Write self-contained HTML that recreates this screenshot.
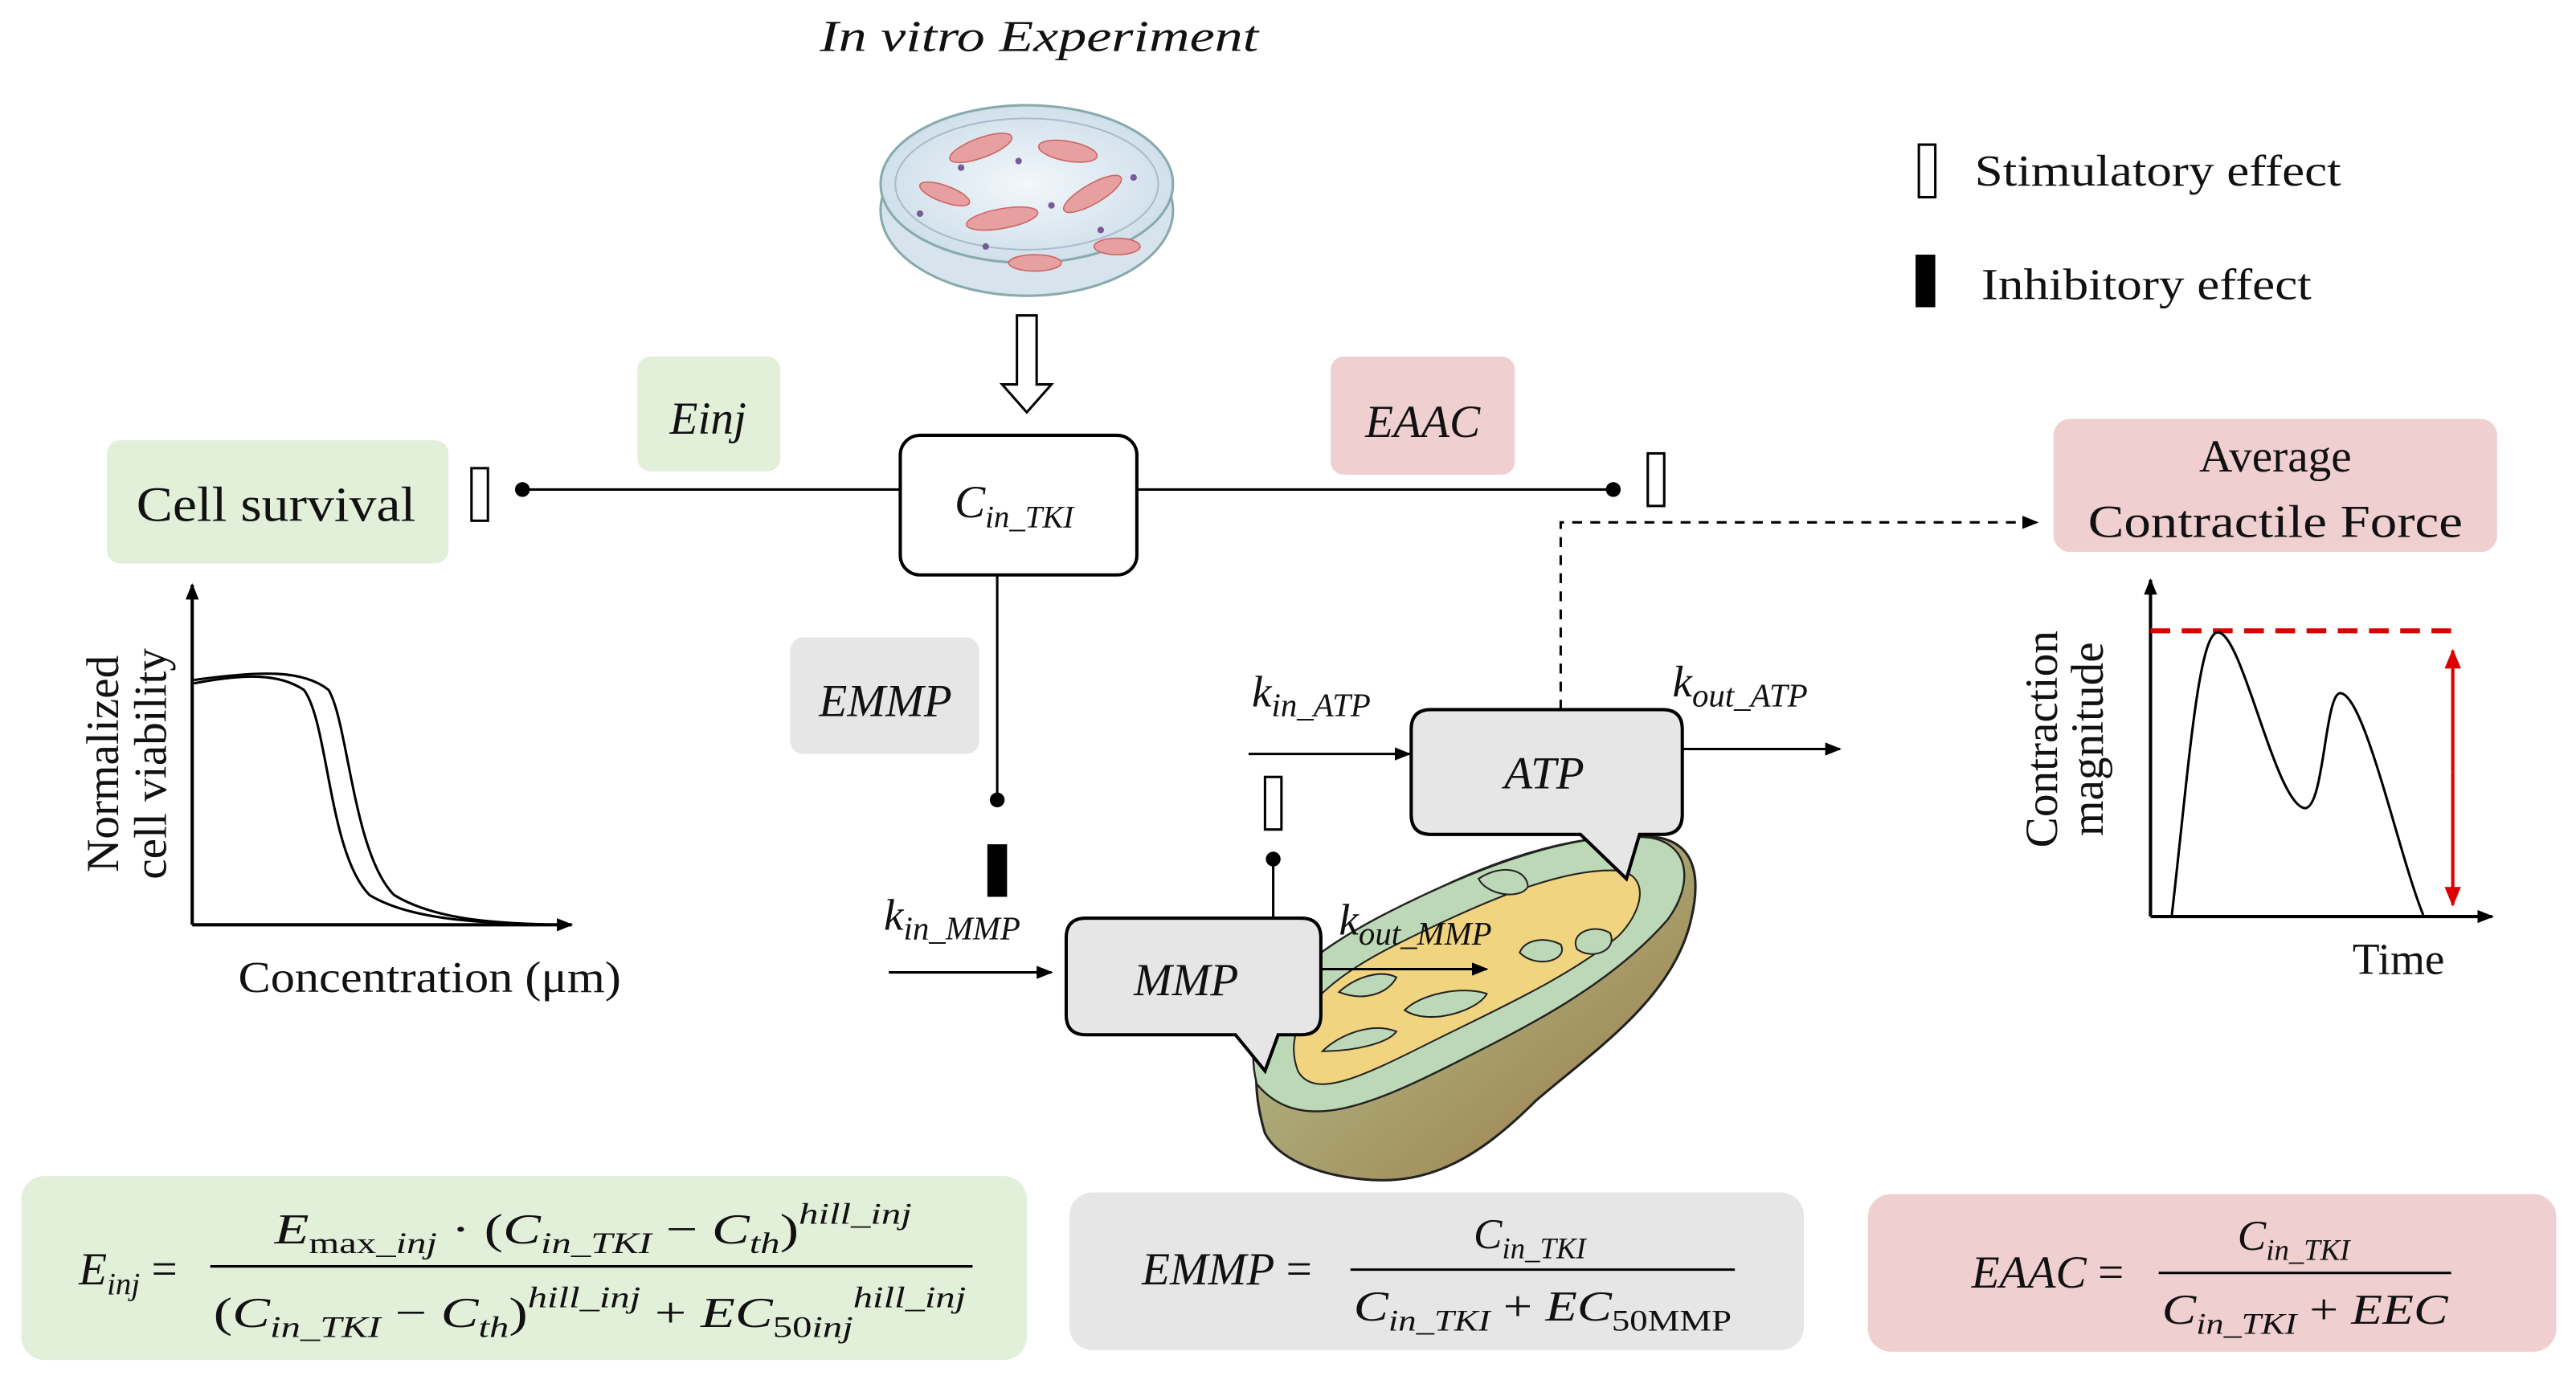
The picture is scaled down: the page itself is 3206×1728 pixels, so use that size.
<!DOCTYPE html>
<html><head><meta charset="utf-8"><style>
html,body{margin:0;padding:0;background:#fff}
svg{display:block}
text{font-family:"Liberation Serif",serif;fill:#111}
.it{font-style:italic}
</style></head><body>
<svg width="3206" height="1728" viewBox="0 0 1568 845" xmlns="http://www.w3.org/2000/svg">
<defs>
<marker id="ar" markerWidth="10" markerHeight="8" refX="9" refY="4" orient="auto" markerUnits="userSpaceOnUse"><path d="M0,0 L10,4 L0,8 z" fill="#000"/></marker>
<marker id="rr" markerWidth="12" markerHeight="10" refX="11" refY="5" orient="auto" markerUnits="userSpaceOnUse"><path d="M0,0 L12,5 L0,10 z" fill="#d00"/></marker>
<linearGradient id="br" x1="0" y1="0" x2="1" y2="1"><stop offset="0" stop-color="#b7c99a"/><stop offset="1" stop-color="#9a7a45"/></linearGradient>
<radialGradient id="pd" cx="0.5" cy="0.5" r="0.6"><stop offset="0" stop-color="#f2f7fb"/><stop offset="1" stop-color="#c9dbe8"/></radialGradient>
</defs>

<text x="499" y="31" font-size="27" class="it" textLength="267" lengthAdjust="spacingAndGlyphs">In vitro Experiment</text>
<ellipse cx="625" cy="128" rx="89" ry="52" fill="#d7e4ee" stroke="#8aa" stroke-width="1.5"/>
<ellipse cx="625" cy="112" rx="89" ry="48" fill="url(#pd)" stroke="#8aa" stroke-width="1.5"/>
<ellipse cx="625" cy="112" rx="80" ry="40" fill="none" stroke="#abc" stroke-width="1"/>
<g fill="#e7a0a0" stroke="#c66" stroke-width="0.8">
<ellipse cx="597" cy="90" rx="20" ry="6" transform="rotate(-20 597 90)"/>
<ellipse cx="650" cy="92" rx="18" ry="6" transform="rotate(10 650 92)"/>
<ellipse cx="610" cy="133" rx="22" ry="6" transform="rotate(-10 610 133)"/>
<ellipse cx="665" cy="118" rx="20" ry="6" transform="rotate(-30 665 118)"/>
<ellipse cx="575" cy="118" rx="16" ry="5" transform="rotate(20 575 118)"/>
<ellipse cx="680" cy="150" rx="14" ry="5"/>
<ellipse cx="630" cy="160" rx="16" ry="5"/>
</g>
<g fill="#7a5a9a"><circle cx="585" cy="102" r="2"/><circle cx="620" cy="98" r="2"/><circle cx="640" cy="125" r="2"/><circle cx="690" cy="108" r="2"/><circle cx="560" cy="130" r="2"/><circle cx="600" cy="150" r="2"/><circle cx="670" cy="140" r="2"/></g>
<path d="M619,192 H631 V234 H640 L625,251 L610,234 H619 Z" fill="#fff" stroke="#000" stroke-width="1.5"/>

<rect x="1168" y="88" width="10" height="32" fill="#fff" stroke="#000" stroke-width="1.5"/>
<text x="1202" y="113" font-size="27" textLength="223" lengthAdjust="spacingAndGlyphs">Stimulatory effect</text>
<rect x="1166" y="155" width="12" height="32" fill="#000"/>
<text x="1206" y="182" font-size="27" textLength="201" lengthAdjust="spacingAndGlyphs">Inhibitory effect</text>

<rect x="388" y="217" width="87" height="70" rx="8" fill="#e2efd9"/>
<text x="431" y="264" font-size="28" class="it" text-anchor="middle">Einj</text>
<rect x="810" y="217" width="112" height="72" rx="8" fill="#efcfd0"/>
<text x="866" y="266" font-size="28" class="it" text-anchor="middle">EAAC</text>
<rect x="65" y="268" width="208" height="75" rx="8" fill="#e2efd9"/>
<text x="83" y="317" font-size="30" textLength="170" lengthAdjust="spacingAndGlyphs">Cell survival</text>
<rect x="481" y="388" width="115" height="71" rx="8" fill="#e6e6e6"/>
<text x="539" y="436" font-size="28" class="it" text-anchor="middle">EMMP</text>
<rect x="1250" y="255" width="270" height="81" rx="10" fill="#efcfd0"/>
<text x="1385" y="287" font-size="28" text-anchor="middle">Average</text>
<text x="1271" y="327" font-size="28" textLength="228" lengthAdjust="spacingAndGlyphs">Contractile Force</text>

<rect x="287" y="285" width="10" height="32" fill="#fff" stroke="#000" stroke-width="1.5"/>
<line x1="318" y1="298" x2="548" y2="298" stroke="#000" stroke-width="1.5"/>
<circle cx="318" cy="298" r="4.5"/>
<line x1="692" y1="298" x2="982" y2="298" stroke="#000" stroke-width="1.5"/>
<circle cx="982" cy="298" r="4.5"/>
<rect x="1003" y="276" width="10" height="32" fill="#fff" stroke="#000" stroke-width="1.5"/>
<path d="M950,432 V318 H1240" fill="none" stroke="#000" stroke-width="1.5" stroke-dasharray="6,5" marker-end="url(#ar)"/>
<line x1="607" y1="350" x2="607" y2="487" stroke="#000" stroke-width="1.5"/>
<circle cx="607" cy="487" r="4.5"/>
<rect x="601" y="514" width="12" height="32" fill="#000"/>

<rect x="548" y="265" width="144" height="85" rx="12" fill="#fff" stroke="#000" stroke-width="2"/>
<text x="581" y="315" font-size="28" class="it">C<tspan font-size="19" dy="6">in_TKI</tspan></text>

<path d="M770,690 C755,640 770,600 840,560 C900,525 960,505 1010,510 C1035,515 1035,540 1028,565 C1015,610 970,640 935,670 C900,705 870,722 830,718 C800,715 778,705 770,690 Z" fill="url(#br)" stroke="#222" stroke-width="1.5"/>
<path d="M765,660 C755,620 780,590 840,558 C900,527 960,505 1005,510 C1030,515 1030,540 1015,560 C980,600 930,625 880,650 C830,675 790,690 765,660 Z" fill="#bcd8b6" stroke="#222" stroke-width="1.2"/>
<path d="M790,652 C780,625 800,600 850,575 C900,550 950,528 985,530 C1005,533 1000,555 985,570 C955,595 910,615 870,635 C830,655 800,670 790,652 Z" fill="#f1d47f" stroke="#222" stroke-width="1"/>
<g fill="#bcd8b6" stroke="#222" stroke-width="1">
<path d="M900,535 C905,545 925,548 930,540 C930,530 915,525 900,535 Z"/>
<path d="M960,578 C955,568 970,562 980,568 C985,578 970,585 960,578 Z"/>
<path d="M815,604 C830,610 845,605 850,595 C840,590 825,595 815,604 Z"/>
<path d="M855,615 C870,625 900,615 905,605 C890,600 865,605 855,615 Z"/>
<path d="M805,640 C825,640 845,635 850,628 C835,622 815,630 805,640 Z"/>
<path d="M925,580 C935,590 955,585 950,575 C940,570 928,572 925,580 Z"/>
</g>

<path d="M661,559 H792 Q804,559 804,571 V618 Q804,630 792,630 H778 L770,652 L752,630 H661 Q649,630 649,618 V571 Q649,559 661,559 Z" fill="#e6e6e6" stroke="#000" stroke-width="2"/>
<text x="722" y="606" font-size="28" class="it" text-anchor="middle">MMP</text>
<path d="M871,432 H1012 Q1024,432 1024,444 V496 Q1024,508 1012,508 H998 L990,535 L962,508 H871 Q859,508 859,496 V444 Q859,432 871,432 Z" fill="#e6e6e6" stroke="#000" stroke-width="2"/>
<text x="940" y="480" font-size="28" class="it" text-anchor="middle">ATP</text>

<text x="538" y="566" font-size="27" class="it">k<tspan font-size="20" dy="6">in_MMP</tspan></text>
<line x1="541" y1="592" x2="640" y2="592" stroke="#000" stroke-width="1.5" marker-end="url(#ar)"/>
<text x="762" y="430" font-size="27" class="it">k<tspan font-size="20" dy="6">in_ATP</tspan></text>
<line x1="760" y1="459" x2="858" y2="459" stroke="#000" stroke-width="1.5" marker-end="url(#ar)"/>
<text x="1018" y="424" font-size="27" class="it">k<tspan font-size="20" dy="6">out_ATP</tspan></text>
<line x1="1024" y1="456" x2="1120" y2="456" stroke="#000" stroke-width="1.5" marker-end="url(#ar)"/>
<rect x="770" y="473" width="10" height="32" fill="#fff" stroke="#000" stroke-width="1.5"/>
<circle cx="775" cy="523" r="4.5"/>
<line x1="775" y1="523" x2="775" y2="559" stroke="#000" stroke-width="1.5"/>
<text x="815" y="569" font-size="27" class="it">k<tspan font-size="20" dy="6">out_MMP</tspan></text>
<line x1="804" y1="590" x2="905" y2="590" stroke="#000" stroke-width="1.5" marker-end="url(#ar)"/>

<line x1="117" y1="563" x2="117" y2="356" stroke="#000" stroke-width="2" marker-end="url(#ar)"/>
<line x1="117" y1="563" x2="348" y2="563" stroke="#000" stroke-width="2" marker-end="url(#ar)"/>
<path d="M118,416 C150,410 170,410 185,420 C200,440 200,520 225,545 C250,560 290,562 340,563" fill="none" stroke="#000" stroke-width="1.5"/>
<path d="M118,414 C160,408 185,408 200,420 C212,440 215,520 240,545 C265,560 300,562 340,563" fill="none" stroke="#000" stroke-width="1.5"/>
<text transform="translate(72,465) rotate(-90)" font-size="28" text-anchor="middle">Normalized</text>
<text transform="translate(101,465) rotate(-90)" font-size="28" text-anchor="middle">cell viability</text>
<text x="145" y="604" font-size="27" textLength="233" lengthAdjust="spacingAndGlyphs">Concentration (μm)</text>

<line x1="1309" y1="558" x2="1309" y2="353" stroke="#000" stroke-width="2" marker-end="url(#ar)"/>
<line x1="1309" y1="558" x2="1517" y2="558" stroke="#000" stroke-width="2" marker-end="url(#ar)"/>
<line x1="1309" y1="384" x2="1493" y2="384" stroke="#d00" stroke-width="3" stroke-dasharray="12,7"/>
<line x1="1493" y1="470" x2="1493" y2="396" stroke="#d00" stroke-width="2" marker-end="url(#rr)"/>
<line x1="1493" y1="470" x2="1493" y2="551" stroke="#d00" stroke-width="2" marker-end="url(#rr)"/>
<path d="M1322,557 C1332,470 1338,385 1350,385 C1365,385 1385,490 1403,492 C1415,492 1415,420 1425,422 C1440,425 1460,520 1475,557" fill="none" stroke="#000" stroke-width="1.5"/>
<text transform="translate(1252,450) rotate(-90)" font-size="28" text-anchor="middle">Contraction</text>
<text transform="translate(1280,450) rotate(-90)" font-size="28" text-anchor="middle">magnitude</text>
<text x="1460" y="593" font-size="27" text-anchor="middle">Time</text>

<rect x="13" y="716" width="612" height="112" rx="14" fill="#e2efd9"/>
<text x="48" y="782" font-size="28" class="it">E<tspan font-size="19" dy="6">inj</tspan><tspan dy="-6" font-style="normal"> =</tspan></text>
<line x1="128" y1="771" x2="592" y2="771" stroke="#000" stroke-width="1.5"/>
<text x="167" y="757" font-size="26" class="it" textLength="388" lengthAdjust="spacingAndGlyphs">E<tspan font-size="18" dy="6" font-style="normal">max</tspan><tspan font-size="18">_inj</tspan><tspan dy="-6" font-style="normal"> · (</tspan>C<tspan font-size="18" dy="6">in_TKI</tspan><tspan dy="-6" font-style="normal"> − </tspan>C<tspan font-size="18" dy="6">th</tspan><tspan dy="-6" font-style="normal">)</tspan><tspan font-size="18" dy="-12">hill_inj</tspan></text>
<text x="130" y="808" font-size="26" class="it" textLength="458" lengthAdjust="spacingAndGlyphs"><tspan font-style="normal">(</tspan>C<tspan font-size="18" dy="6">in_TKI</tspan><tspan dy="-6" font-style="normal"> − </tspan>C<tspan font-size="18" dy="6">th</tspan><tspan dy="-6" font-style="normal">)</tspan><tspan font-size="18" dy="-12">hill_inj</tspan><tspan dy="12" font-style="normal"> + </tspan>EC<tspan font-size="18" dy="6" font-style="normal">50</tspan><tspan font-size="18">inj</tspan><tspan font-size="18" dy="-18">hill_inj</tspan></text>

<rect x="651" y="726" width="447" height="96" rx="14" fill="#e6e6e6"/>
<text x="695" y="782" font-size="28" class="it">EMMP<tspan font-style="normal"> =</tspan></text>
<line x1="822" y1="773" x2="1056" y2="773" stroke="#000" stroke-width="1.5"/>
<text x="897" y="760" font-size="26" class="it">C<tspan font-size="18" dy="6">in_TKI</tspan></text>
<text x="824" y="804" font-size="26" class="it" textLength="230" lengthAdjust="spacingAndGlyphs">C<tspan font-size="18" dy="6">in_TKI</tspan><tspan dy="-6" font-style="normal"> + </tspan>EC<tspan font-size="18" dy="6" font-style="normal">50MMP</tspan></text>

<rect x="1137" y="727" width="419" height="96" rx="14" fill="#efcfd0"/>
<text x="1200" y="784" font-size="28" class="it">EAAC<tspan font-style="normal"> =</tspan></text>
<line x1="1314" y1="775" x2="1492" y2="775" stroke="#000" stroke-width="1.5"/>
<text x="1362" y="761" font-size="26" class="it">C<tspan font-size="18" dy="6">in_TKI</tspan></text>
<text x="1316" y="806" font-size="26" class="it" textLength="174" lengthAdjust="spacingAndGlyphs">C<tspan font-size="18" dy="6">in_TKI</tspan><tspan dy="-6" font-style="normal"> + </tspan>EEC</text>
</svg>
</body></html>
